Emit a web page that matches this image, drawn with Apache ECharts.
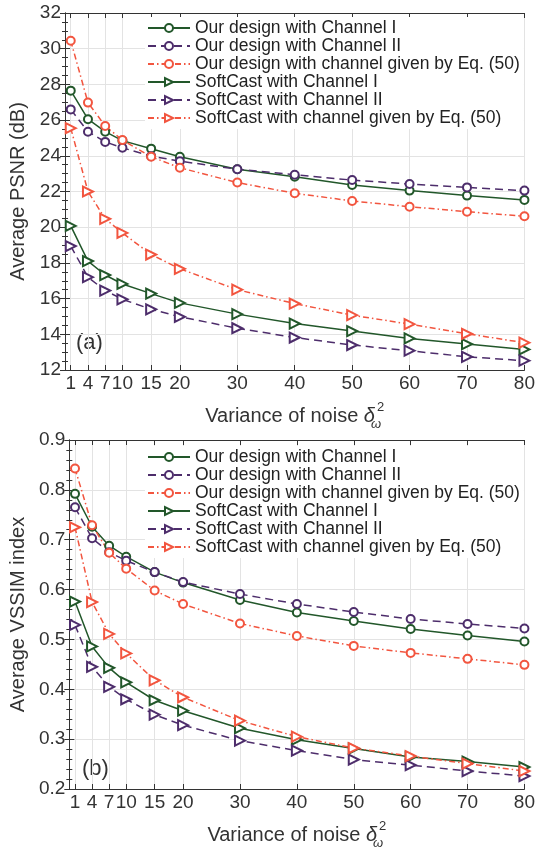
<!DOCTYPE html>
<html>
<head>
<meta charset="utf-8">
<script src="https://cdn.jsdelivr.net/npm/echarts/dist/echarts.min.js"></script>
<style>
  html, body { margin: 0; padding: 0; background: #fff; }
  #main { width: 538px; height: 851px; }
</style>
</head>
<body>
<div id="main"></div>
<script>
// x positions (noise variance)
const xs = [1, 4, 7, 10, 15, 20, 30, 40, 50, 60, 70, 80];

// (a) PSNR, dB
const psnrOurCh1 = [27.65, 26.05, 25.35, 24.85, 24.4, 23.95, 23.25, 22.83, 22.36, 22.05, 21.77, 21.53];
const psnrOurCh2 = [26.6, 25.35, 24.78, 24.45, 23.98, 23.7, 23.25, 22.94, 22.64, 22.42, 22.23, 22.05];
const psnrOurEq = [30.45, 26.98, 25.67, 24.88, 23.95, 23.33, 22.5, 21.9, 21.47, 21.15, 20.87, 20.61];
const psnrSoftCh1 = [20.07, 18.1, 17.32, 16.82, 16.28, 15.76, 15.13, 14.6, 14.18, 13.77, 13.45, 13.15];
const psnrSoftCh2 = [18.94, 17.2, 16.45, 15.96, 15.4, 14.98, 14.34, 13.82, 13.4, 13.08, 12.74, 12.52];
const psnrSoftEq = [25.55, 22.0, 20.47, 19.68, 18.47, 17.67, 16.5, 15.72, 15.07, 14.57, 14.03, 13.53];

// (b) VSSIM
const ssimOurCh1 = [0.792, 0.726, 0.688, 0.666, 0.635, 0.614, 0.579, 0.554, 0.537, 0.521, 0.508, 0.496];
const ssimOurCh2 = [0.765, 0.703, 0.675, 0.658, 0.635, 0.615, 0.591, 0.571, 0.555, 0.541, 0.531, 0.522];
const ssimOurEq = [0.843, 0.729, 0.674, 0.642, 0.598, 0.571, 0.532, 0.507, 0.487, 0.473, 0.461, 0.449];
const ssimSoftCh1 = [0.576, 0.486, 0.443, 0.414, 0.378, 0.357, 0.322, 0.299, 0.281, 0.264, 0.255, 0.244];
const ssimSoftCh2 = [0.529, 0.445, 0.405, 0.38, 0.349, 0.328, 0.297, 0.277, 0.259, 0.248, 0.236, 0.226];
const ssimSoftEq = [0.725, 0.575, 0.511, 0.472, 0.418, 0.384, 0.337, 0.305, 0.282, 0.266, 0.251, 0.236];

const names = [
    'Our design with Channel I',
    'Our design with Channel II',
    'Our design with channel given by Eq. (50)',
    'SoftCast with Channel I',
    'SoftCast with Channel II',
    'SoftCast with channel given by Eq. (50)'
];

const font = '"Liberation Sans", Arial, sans-serif';
const txt = '#333';
const green = '#22572a';
const purple = '#4d2d6b';
const orange = '#f2553f';
const dashDot = [6, 3, 1.5, 3];

// x axes: bottom with labels, top just mirrors the box
function xAxes(grid) {
    return [
        {
            type: 'value', gridIndex: grid, min: 0, max: 80, position: 'bottom',
            name: 'Variance of noise {d|δ}{w|ω}{t|2}',
            nameLocation: 'middle', nameGap: 31,
            nameTextStyle: {
                fontSize: 20, color: txt, fontFamily: font, lineHeight: 30,
                rich: {
                    d: { fontSize: 20, fontStyle: 'italic', fontFamily: font, color: txt, lineHeight: 30 },
                    w: { fontSize: 13, fontStyle: 'italic', fontFamily: font, color: txt, verticalAlign: 'bottom', lineHeight: 30, width: 2 },
                    t: { fontSize: 13, fontFamily: font, color: txt, verticalAlign: 'top', lineHeight: 30 }
                }
            },
            axisLine: { lineStyle: { color: '#333', width: 1 } },
            axisTick: { show: true, inside: true, length: 5, customValues: xs, lineStyle: { color: '#333' } },
            axisLabel: { customValues: xs, fontSize: 19, color: txt, fontFamily: font, margin: 4 },
            splitLine: { show: true, lineStyle: { color: '#e3e3e3', width: 1 } }
        },
        {
            type: 'value', gridIndex: grid, min: 0, max: 80, position: 'top',
            axisLine: { lineStyle: { color: '#333', width: 1 } },
            axisTick: { show: true, inside: true, length: 5, customValues: xs, lineStyle: { color: '#333' } },
            axisLabel: { show: false },
            splitLine: { show: false }
        }
    ];
}

function yAxes(grid, min, max, step, minorSplit, name, fmt) {
    return [
        {
            type: 'value', gridIndex: grid, min: min, max: max, interval: step, position: 'left',
            name: name, nameLocation: 'middle', nameGap: fmt ? 41 : 36,
            nameTextStyle: { fontSize: 20, color: txt, fontFamily: font },
            axisLine: { show: true, lineStyle: { color: '#333', width: 1 } },
            axisTick: { show: true, inside: true, length: 5, lineStyle: { color: '#333' } },
            minorTick: { show: true, splitNumber: minorSplit, length: 3, lineStyle: { color: '#333' } },
            axisLabel: { fontSize: 19, color: txt, fontFamily: font, margin: 4, formatter: fmt },
            splitLine: { show: true, lineStyle: { color: '#e3e3e3', width: 1 } }
        },
        {
            type: 'value', gridIndex: grid, min: min, max: max, interval: step, position: 'right',
            axisLine: { show: true, lineStyle: { color: '#333', width: 1 } },
            axisTick: { show: true, inside: true, length: 5, lineStyle: { color: '#333' } },
            minorTick: { show: true, splitNumber: minorSplit, length: 3, lineStyle: { color: '#333' } },
            axisLabel: { show: false },
            splitLine: { show: false }
        }
    ];
}

function line(name, vals, xi, yi, color, dash, tri) {
    return {
        name: name,
        type: 'line',
        xAxisIndex: xi,
        yAxisIndex: yi,
        data: xs.map(function (x, k) { return [x, vals[k]]; }),
        symbol: tri ? 'emptyTriangle' : 'emptyCircle',
        symbolSize: tri ? 10 : 8,
        symbolRotate: tri ? -90 : 0,
        showAllSymbol: true,
        lineStyle: { color: color, width: 1.5, type: dash },
        itemStyle: { color: color, borderColor: color, borderWidth: 1.5 },
        emphasis: { disabled: true },
        z: 3
    };
}

function legend(top) {
    return {
        orient: 'vertical',
        left: 145,
        top: top,
        padding: [2, 4, 2, 2],
        backgroundColor: '#fff',
        itemWidth: 42,
        itemHeight: 10,
        itemGap: 0,
        selectedMode: false,
        textStyle: { fontSize: 17.5, lineHeight: 16.7, color: '#222', fontFamily: font },
        data: names
    };
}

const chart = echarts.init(document.getElementById('main'), null, { renderer: 'canvas' });

const optionData = {
    backgroundColor: '#fff',
    animation: false,
    grid: [
        { left: 65, right: 10, top: 13, height: 357 },
        { left: 69, right: 12, top: 440, height: 355 }
    ],
    xAxis: xAxes(0).concat(xAxes(1)),
    yAxis: yAxes(0, 12, 32, 2, 4, 'Average PSNR (dB)').concat(
        yAxes(1, 0.2, 0.9, 0.1, 5, 'Average VSSIM index', function (v) { return v.toFixed(1); })),
    legend: [legend(17), legend(446)],
    graphic: [
        { type: 'text', left: 76, top: 332, style: { text: '(a)', fontSize: 22, fill: txt, fontFamily: font } },
        { type: 'text', left: 82, top: 758, style: { text: '(b)', fontSize: 22, fill: txt, fontFamily: font } }
    ],
    series: [
        line(names[0], psnrOurCh1, 0, 0, green, 'solid', false),
        line(names[1], psnrOurCh2, 0, 0, purple, [8, 5], false),
        line(names[2], psnrOurEq, 0, 0, orange, dashDot, false),
        line(names[3], psnrSoftCh1, 0, 0, green, 'solid', true),
        line(names[4], psnrSoftCh2, 0, 0, purple, [8, 5], true),
        line(names[5], psnrSoftEq, 0, 0, orange, dashDot, true),
        line(names[0], ssimOurCh1, 2, 2, green, 'solid', false),
        line(names[1], ssimOurCh2, 2, 2, purple, [8, 5], false),
        line(names[2], ssimOurEq, 2, 2, orange, dashDot, false),
        line(names[3], ssimSoftCh1, 2, 2, green, 'solid', true),
        line(names[4], ssimSoftCh2, 2, 2, purple, [8, 5], true),
        line(names[5], ssimSoftEq, 2, 2, orange, dashDot, true)
    ]
};

chart.setOption(optionData);
</script>
</body>
</html>
